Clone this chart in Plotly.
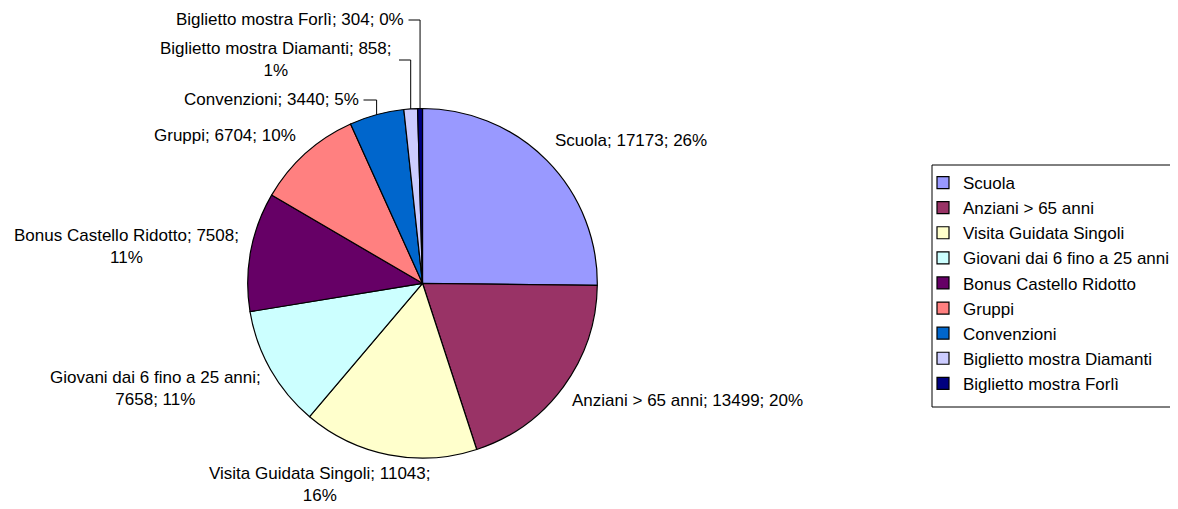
import math
import plotly.graph_objects as go

# Dimensioni della pagina (la pagina html ha un margine di 8 px)
W, H = 1178, 509
OFF = 8
WF, HF = W - OFF, H - OFF

# Dati del grafico
categorie = ["Scuola", "Anziani > 65 anni", "Visita Guidata Singoli",
             "Giovani dai 6 fino a 25 anni", "Bonus Castello Ridotto", "Gruppi",
             "Convenzioni", "Biglietto mostra Diamanti", "Biglietto mostra Forlì"]
biglietti = [17173, 13499, 11043, 7658, 7508, 6704, 3440, 858, 304]
percentuali = [26, 20, 16, 11, 11, 10, 5, 1, 0]
colori = ["#9999FF", "#993366", "#FFFFCC", "#CCFFFF", "#660066",
          "#FF8080", "#0066CC", "#CCCCFF", "#000080"]

# Quante parti prima dell'a capo (0 = una riga sola)
a_capo = [0, 0, 2, 1, 2, 0, 0, 2, 0]

# Posizione delle etichette (pixel della pagina) e ancoraggio
pos_etichette = [(553, 140, "left"), (570, 400, "left"), (319, 484.5, "center"),
                 (155.5, 388, "center"), (126.7, 247, "center"), (298.3, 135, "right"),
                 (360.5, 100, "right"), (276, 60, "center"), (405.5, 20, "right")]
# Linee guida: indice -> x di partenza (pixel)
guide = {6: 363.5, 7: 399, 8: 408.5}

# Geometria della torta e riquadro della legenda (pixel della pagina)
cx, cy, r = 422.5, 283.3, 174.8
leg_x0, leg_y0, leg_x1, leg_y1 = 932, 165, 1175, 407
FONT = "Liberation Sans, Arial, sans-serif"


def px(x):
    return (x - OFF) / WF


def py(y):
    return 1 - (y - OFF) / HF


fig = go.Figure()
fig.add_trace(go.Pie(
    labels=categorie, values=biglietti, sort=False, direction="clockwise",
    marker=dict(colors=colori, line=dict(color="black", width=1.2)),
    textinfo="none", hoverinfo="label+value+percent",
    domain=dict(x=[px(cx - r), px(cx + r)], y=[py(cy + r), py(cy - r)]),
))

# Etichette dei dati
totale = sum(biglietti)
cumulato = 0
annotazioni = []
forme = []
for i, (cat, val, pct) in enumerate(zip(categorie, biglietti, percentuali)):
    parti = [cat, str(val), f"{pct}%"]
    k = a_capo[i]
    if k:
        testo = "; ".join(parti[:k]) + ";<br>" + "; ".join(parti[k:])
    else:
        testo = "; ".join(parti)
    x, y, anc = pos_etichette[i]
    annotazioni.append(dict(x=px(x), y=py(y), xref="paper", yref="paper", text=testo,
                            showarrow=False, xanchor=anc, yanchor="middle", align="center",
                            font=dict(family=FONT, size=17, color="black")))

    # angolo medio della fetta (0 = ore 12, senso orario)
    ang = 2 * math.pi * (cumulato + val / 2) / totale
    cumulato += val
    if i in guide:
        ex = cx + r * math.sin(ang)
        ey = cy - r * math.cos(ang)
        forme.append(dict(type="line", xref="paper", yref="paper",
                          x0=px(guide[i]), y0=py(y), x1=px(ex), y1=py(y),
                          line=dict(color="black", width=1)))
        forme.append(dict(type="line", xref="paper", yref="paper",
                          x0=px(ex), y0=py(y), x1=px(ex), y1=py(ey),
                          line=dict(color="black", width=1)))

# Cornice della legenda
forme.append(dict(type="rect", xref="paper", yref="paper", layer="below",
                  x0=px(leg_x0), y0=py(leg_y1), x1=px(leg_x1), y1=py(leg_y0),
                  line=dict(color="black", width=1), fillcolor="white"))

fig.update_layout(
    width=WF, height=HF,
    margin=dict(l=0, r=0, t=0, b=0, autoexpand=False),
    paper_bgcolor="white", plot_bgcolor="white",
    font=dict(family=FONT, size=17, color="black"),
    annotations=annotazioni, shapes=forme,
    showlegend=True,
    legend=dict(x=px(leg_x0 - 9), y=py(leg_y0), xanchor="left", yanchor="top",
                borderwidth=0, bgcolor="rgba(0,0,0,0)",
                font=dict(family=FONT, size=17, color="black")),
)

fig.write_html("out.html")
